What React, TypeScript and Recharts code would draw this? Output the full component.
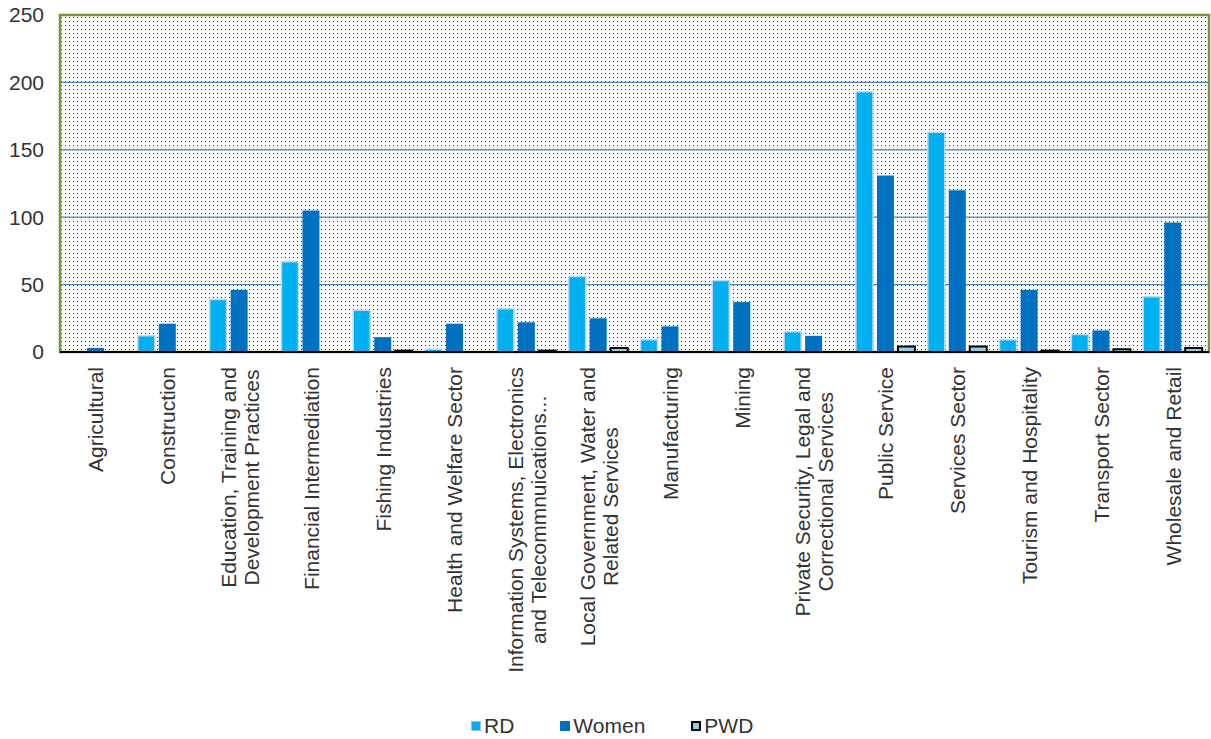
import { BarChart, Bar, XAxis, YAxis, CartesianGrid, ReferenceArea } from 'recharts'

const categories = [
  'Agricultural',
  'Construction',
  'Education, Training and\nDevelopment Practices',
  'Financial Intermediation',
  'Fishing Industries',
  'Health and Welfare Sector',
  'Information Systems, Electronics\nand Telecommnuications...',
  'Local Government, Water and\nRelated Services',
  'Manufacturing',
  'Mining',
  'Private Security, Legal and\nCorrectional Services',
  'Public Service',
  'Services Sector',
  'Tourism and Hospitality',
  'Transport Sector',
  'Wholesale and Retail',
]
const rdValues = [0, 12, 39, 67, 31, 2, 32, 56, 9, 53, 15, 193, 163, 9, 13, 41]
const womenValues = [3, 21, 46, 105, 11, 21, 22, 25, 19, 37, 12, 131, 120, 46, 16, 96]
const pwdValues = [0, 0, 0, 0, 1, 0, 1, 3, 0, 0, 0, 4, 4, 1, 2, 3]
const yTicks = [0, 50, 100, 150, 200, 250]

const data = categories.map((name, i) => ({ name, rd: rdValues[i], women: womenValues[i], pwd: pwdValues[i] }))

const FONT = '"Liberation Sans", Arial, sans-serif'
const TXT = '#333333'
const LABEL_SIZE = 21

let ctx: CanvasRenderingContext2D | null = null
const measure = (s: string) => {
  if (!ctx) {
    ctx = document.createElement('canvas').getContext('2d')
    if (ctx) ctx.font = `${LABEL_SIZE}px "Liberation Sans", Arial, sans-serif`
  }
  return ctx ? ctx.measureText(s).width : s.length * 10
}

// rotated category label, lines centred on each other like Excel does
const XTick = ({ x, y, payload }: any) => {
  const lines = String(payload.value).split('\n')
  const maxW = Math.max(...lines.map(measure))
  const cy = y + 7 + maxW / 2
  const lh = 23
  return (
    <g>
      {lines.map((ln, i) => (
        <text key={i} transform={`translate(${x + (i - (lines.length - 1) / 2) * lh},${cy}) rotate(-90)`}
          textAnchor="middle" dominantBaseline="central" fontSize={LABEL_SIZE} fill={TXT} fontFamily={FONT}>
          {ln}
        </text>
      ))}
    </g>
  )
}

const legendItems = [
  { label: 'RD', fill: '#00B0F0', border: '1px solid #9DC3E6' },
  { label: 'Women', fill: '#0070C0', border: '1px solid #0070C0' },
  { label: 'PWD', fill: '#93CDDD', border: '2px solid #000' },
]

export default function App() {
  return (
    <div style={{ position: 'absolute', left: 0, top: 0, width: 1211, height: 739, background: '#fff' }}>
      <svg width={0} height={0} style={{ position: 'absolute' }}>
        <defs>
          <pattern id="dots" width={4} height={4} patternUnits="userSpaceOnUse">
            <rect width={4} height={4} fill="#fff" />
            <rect x={1} y={1} width={1} height={1} fill="#3a3a3a" />
          </pattern>
        </defs>
      </svg>
      <BarChart width={1211} height={739} data={data} margin={{ top: 15, right: 2, left: 0, bottom: 0 }}
        barSize={17} barGap={4}>
        <CartesianGrid vertical={false} stroke="#4F81BD" strokeWidth={1.2} fill="url(#dots)" />
        <XAxis dataKey="name" interval={0} height={387} tickLine={false} axisLine={{ stroke: '#000', strokeWidth: 2 }}
          tick={<XTick />} />
        <YAxis domain={[0, 250]} ticks={yTicks} width={60} axisLine={false} tickLine={false} tickMargin={10}
          tick={{ fontSize: 21, fill: TXT, fontFamily: FONT }} />
        <Bar dataKey="rd" name="RD" fill="#00B0F0" stroke="#BDD7EE" strokeWidth={1.5} isAnimationActive={false} />
        <Bar dataKey="women" name="Women" fill="#0070C0" isAnimationActive={false} />
        <Bar dataKey="pwd" name="PWD" fill="#93CDDD" stroke="#000" strokeWidth={2} isAnimationActive={false} />
        <ReferenceArea y1={0} y2={250} fill="none" stroke="#77933C" strokeWidth={2.5} ifOverflow="visible" />
      </BarChart>
      <div style={{ position: 'absolute', left: 471, top: 714, display: 'flex', gap: 46, fontFamily: FONT, fontSize: 21, color: TXT }}>
        {legendItems.map(it => (
          <div key={it.label} style={{ display: 'flex', alignItems: 'center', gap: 3 }}>
            <span style={{ display: 'inline-block', width: 10, height: 10, boxSizing: 'border-box', background: it.fill, border: it.border }} />
            <span>{it.label}</span>
          </div>
        ))}
      </div>
    </div>
  )
}
